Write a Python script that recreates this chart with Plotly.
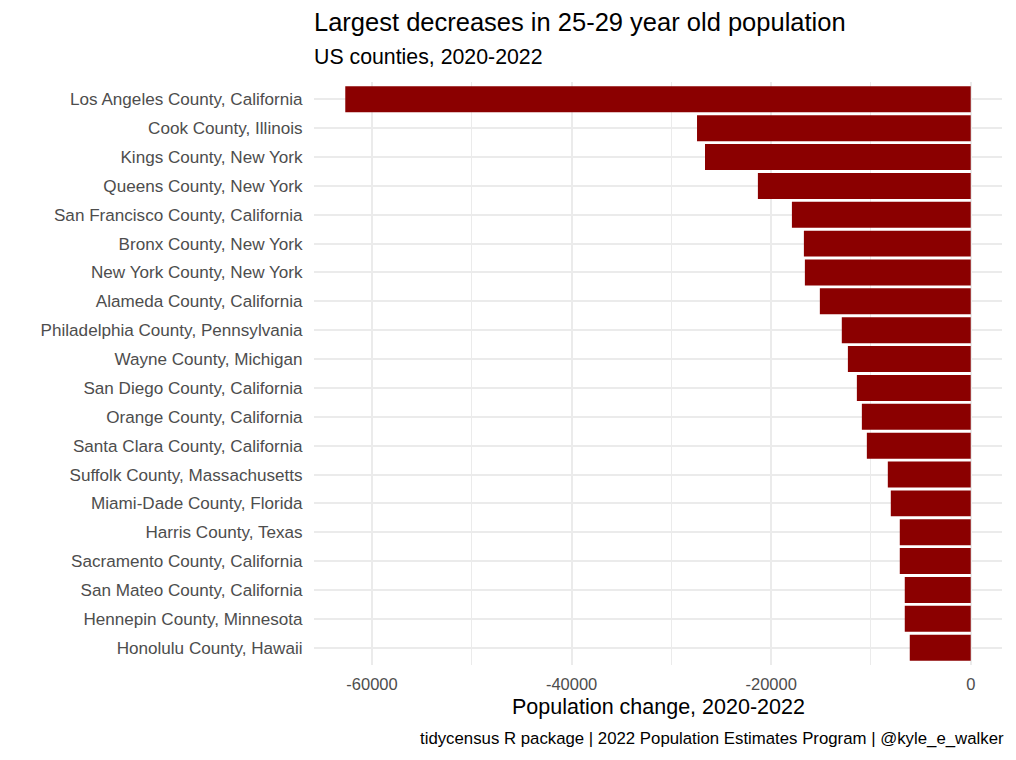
import plotly.graph_objects as go

counties = [
    "Los Angeles County, California",
    "Cook County, Illinois",
    "Kings County, New York",
    "Queens County, New York",
    "San Francisco County, California",
    "Bronx County, New York",
    "New York County, New York",
    "Alameda County, California",
    "Philadelphia County, Pennsylvania",
    "Wayne County, Michigan",
    "San Diego County, California",
    "Orange County, California",
    "Santa Clara County, California",
    "Suffolk County, Massachusetts",
    "Miami-Dade County, Florida",
    "Harris County, Texas",
    "Sacramento County, California",
    "San Mateo County, California",
    "Hennepin County, Minnesota",
    "Honolulu County, Hawaii",
]
change = [-62680, -27430, -26630, -21330, -17920, -16720, -16620, -15120,
          -12920, -12310, -11410, -10910, -10410, -8310, -8010, -7110,
          -7110, -6610, -6610, -6110]

xticks = [-60000, -40000, -20000, 0]
xticktext = ["-60000", "-40000", "-20000", "0"]

title = "Largest decreases in 25-29 year old population"
subtitle = "US counties, 2020-2022"
xtitle = "Population change, 2020-2022"
caption = "tidycensus R package | 2022 Population Estimates Program | @kyle_e_walker"

FONT = "Liberation Sans, Arial, sans-serif"
OFF = 8  # default page body margin
W, H = 1016 - OFF, 760 - OFF
L, R, T, B = 313.6 - OFF, 13.7, 81.7 - OFF, 94.6

lo = min(change)
span = 0 - lo
xr = [lo - 0.05 * span, 0 + 0.05 * span]

fig = go.Figure(go.Bar(
    x=change, y=counties, orientation="h",
    marker=dict(color="#8b0000", line=dict(width=0)),
    width=0.9,
))

ph = H - T - B

def py(ypix):
    # ypix given in window coordinates
    return (H - B - (ypix - OFF)) / ph

fig.update_layout(
    width=W, height=H,
    margin=dict(l=L, r=R, t=T, b=B, pad=0),
    plot_bgcolor="white", paper_bgcolor="white",
    font=dict(family=FONT, color="#4d4d4d"),
    showlegend=False,
    xaxis=dict(
        range=xr, autorange=False,
        tickvals=xticks, ticktext=xticktext,
        showgrid=True, gridcolor="#ebebeb", gridwidth=2,
        zeroline=False, showline=False,
        ticks="outside", ticklen=4, tickcolor="rgba(0,0,0,0)",
        tickfont=dict(size=16.5, color="#4d4d4d", family=FONT),
        minor=dict(tickvals=[-50000, -30000, -10000], showgrid=True,
                   gridcolor="#ebebeb", gridwidth=1),
    ),
    yaxis=dict(
        categoryorder="array", categoryarray=counties,
        range=[len(counties) - 1 + 0.6, -0.6], autorange=False,
        showgrid=True, gridcolor="#ebebeb", gridwidth=2,
        zeroline=False, showline=False,
        ticks="outside", ticklen=7, tickcolor="rgba(0,0,0,0)",
        tickfont=dict(size=17.1, color="#4d4d4d", family=FONT),
    ),
    bargap=0.1,
    annotations=[
        dict(text=title, xref="paper", yref="paper", x=0, y=py(22),
             xanchor="left", yanchor="middle", showarrow=False, xshift=-2,
             font=dict(size=25.5, color="black", family=FONT)),
        dict(text=subtitle, xref="paper", yref="paper", x=0, y=py(57),
             xanchor="left", yanchor="middle", showarrow=False, xshift=-2,
             font=dict(size=21.3, color="black", family=FONT)),
        dict(text=xtitle, xref="paper", yref="paper", x=0.5, y=py(707),
             xanchor="center", yanchor="middle", showarrow=False,
             font=dict(size=21.5, color="black", family=FONT)),
        dict(text=caption, xref="paper", yref="paper", x=1, y=py(739),
             xanchor="right", yanchor="middle", showarrow=False, xshift=4,
             font=dict(size=16.8, color="black", family=FONT)),
    ],
)

fig.write_html("out.html")
